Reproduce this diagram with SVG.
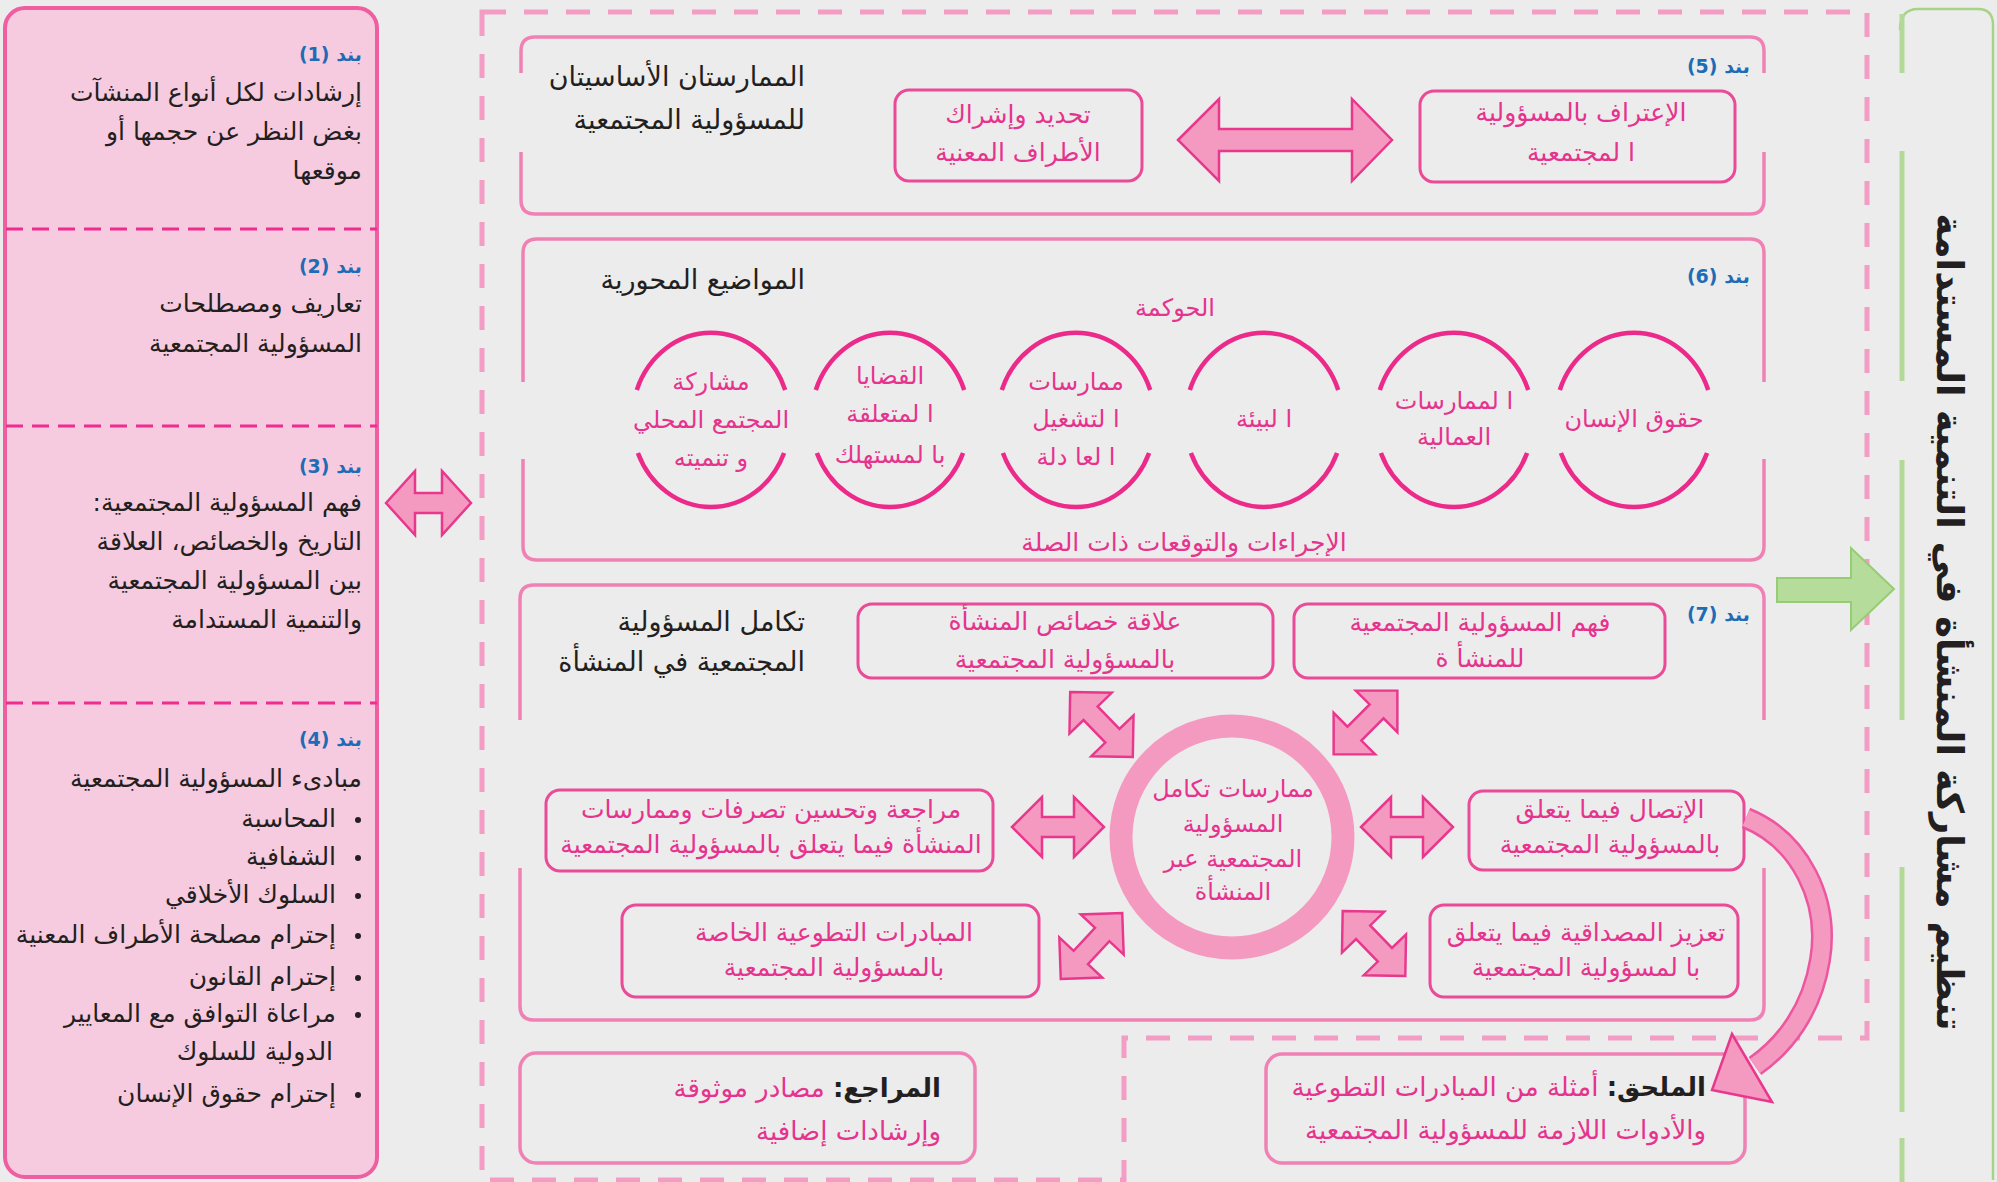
<svg xmlns="http://www.w3.org/2000/svg" xmlns:xlink="http://www.w3.org/1999/xlink" width="1997" height="1182" viewBox="0 0 1997 1182">
<style>
  text{font-family:"DejaVu Sans","Noto Sans",sans-serif}
  .k{fill:#231f20}
  .pk{fill:#e6338d}
  .bl{fill:#1e6cb6;font-weight:bold;font-size:19px}
  .lt{font-size:25px}
  .ttl{font-size:27px}
  .bt{font-size:25px}
  .ct{font-size:24px}
  .outer{fill:none;stroke:#f081b5;stroke-width:3.5}
  .inner{fill:none;stroke:#ea4a98;stroke-width:3}
  .arr{fill:#f49ac1;stroke:#e8378c;stroke-width:2.5;stroke-linejoin:miter}
  .ell{fill:none;stroke:#ec2a8a;stroke-width:4.5}
  .div{stroke:#ee2d8f;stroke-width:3;stroke-dasharray:17 9}
</style>
<defs>
  <path id="dbl" d="M-46,0 L-16,-30 L-16,-10 L16,-10 L16,-30 L46,0 L16,30 L16,10 L-16,10 L-16,30 Z"/>
</defs>
<rect width="1997" height="1182" fill="#ececec"/>

<!-- central dashed frame -->
<path d="M482,12 H1867 V1038 H1124 V1180 H482 Z" fill="none" stroke="#f39cc4" stroke-width="5" stroke-dasharray="24 18"/>

<!-- left panel -->
<g id="left-panel">
  <rect x="5" y="8" width="372" height="1169" rx="20" fill="#f7cbdf" stroke="#ee5ea0" stroke-width="4"/>
  <line class="div" x1="6" y1="229" x2="377" y2="229"/>
  <line class="div" x1="6" y1="426" x2="377" y2="426"/>
  <line class="div" x1="6" y1="703" x2="377" y2="703"/>
</g>
<g id="item1" direction="rtl">
  <text class="bl" x="362" y="61" text-anchor="start">بند (1)</text>
  <text class="k lt" x="362" y="101" text-anchor="start">إرشادات لكل أنواع المنشآت</text>
  <text class="k lt" x="362" y="140" text-anchor="start">بغض النظر عن حجمها أو</text>
  <text class="k lt" x="362" y="179" text-anchor="start">موقعها</text>
</g>
<g id="item2" direction="rtl">
  <text class="bl" x="362" y="273" text-anchor="start">بند (2)</text>
  <text class="k lt" x="362" y="312" text-anchor="start">تعاريف ومصطلحات</text>
  <text class="k lt" x="362" y="352" text-anchor="start">المسؤولية المجتمعية</text>
</g>
<g id="item3" direction="rtl">
  <text class="bl" x="362" y="473" text-anchor="start">بند (3)</text>
  <text class="k lt" x="362" y="511" text-anchor="start">فهم المسؤولية المجتمعية:</text>
  <text class="k lt" x="362" y="550" text-anchor="start">التاريخ والخصائص، العلاقة</text>
  <text class="k lt" x="362" y="589" text-anchor="start">بين المسؤولية المجتمعية</text>
  <text class="k lt" x="362" y="628" text-anchor="start">والتنمية المستدامة</text>
</g>
<g id="item4" direction="rtl">
  <text class="bl" x="362" y="746" text-anchor="start">بند (4)</text>
  <text class="k lt" x="362" y="787" text-anchor="start">مبادىء المسؤولية المجتمعية</text>
  <g fill="#231f20">
    <circle cx="358" cy="820" r="3"/>
    <circle cx="358" cy="858" r="3"/>
    <circle cx="358" cy="896" r="3"/>
    <circle cx="358" cy="936" r="3"/>
    <circle cx="358" cy="978" r="3"/>
    <circle cx="358" cy="1015" r="3"/>
    <circle cx="358" cy="1095" r="3"/>
  </g>
  <text class="k lt" x="336" y="827" text-anchor="start">المحاسبة</text>
  <text class="k lt" x="336" y="865" text-anchor="start">الشفافية</text>
  <text class="k lt" x="336" y="903" text-anchor="start">السلوك الأخلاقي</text>
  <text class="k lt" x="336" y="943" text-anchor="start">إحترام مصلحة الأطراف المعنية</text>
  <text class="k lt" x="336" y="985" text-anchor="start">إحترام القانون</text>
  <text class="k lt" x="336" y="1022" text-anchor="start">مراعاة التوافق مع المعايير</text>
  <text class="k lt" x="333" y="1060" text-anchor="start">الدولية للسلوك</text>
  <text class="k lt" x="336" y="1102" text-anchor="start">إحترام حقوق الإنسان</text>
</g>

<!-- box 5 -->
<g id="box5" direction="rtl">
  <path class="outer" d="M521,73 V51 Q521,37 535,37 H1750 Q1764,37 1764,51 V73 M1764,152 V200 Q1764,214 1750,214 H535 Q521,214 521,200 V152"/>
  <text class="bl" x="1750" y="73" text-anchor="start">بند (5)</text>
  <text class="k ttl" x="805" y="86" text-anchor="start">الممارستان الأساسيتان</text>
  <text class="k ttl" x="805" y="129" text-anchor="start">للمسؤولية المجتمعية</text>
</g>
<g id="n-stakeholders">
  <rect class="inner" x="895" y="90" width="247" height="91" rx="14"/>
  <text class="pk bt" x="1018" y="123" text-anchor="middle">تحديد وإشراك</text>
  <text class="pk bt" x="1018" y="161" text-anchor="middle">الأطراف المعنية</text>
</g>
<g id="n-recognition">
  <rect class="inner" x="1420" y="91" width="315" height="91" rx="14"/>
  <text class="pk bt" x="1581" y="121" text-anchor="middle">الإعتراف بالمسؤولية</text>
  <text class="pk bt" x="1581" y="161" text-anchor="middle">ا لمجتمعية</text>
</g>

<!-- box 6 -->
<g id="box6" direction="rtl">
  <path class="outer" d="M523,382 V253 Q523,239 537,239 H1750 Q1764,239 1764,253 V382 M1764,459 V546 Q1764,560 1750,560 H537 Q523,560 523,546 V459"/>
  <text class="bl" x="1750" y="283" text-anchor="start">بند (6)</text>
  <text class="k ttl" x="805" y="289" text-anchor="start">المواضيع المحورية</text>
  <text class="pk ct" x="1175" y="316" text-anchor="middle">الحوكمة</text>
  <text class="pk bt" x="1184" y="551" text-anchor="middle">الإجراءات والتوقعات ذات الصلة</text>
</g>
<g id="t-community">
  <path class="ell" d="M636.8,390 A79,87 0 0 1 785.2,390 M784.1,453 A79,87 0 0 1 637.9,453"/>
  <text class="pk ct" x="711" y="390" text-anchor="middle">مشاركة</text>
  <text class="pk ct" x="711" y="428" text-anchor="middle">المجتمع المحلي</text>
  <text class="pk ct" x="711" y="466" text-anchor="middle">و تنميته</text>
</g>
<g id="t-consumer">
  <path class="ell" d="M815.8,390 A79,87 0 0 1 964.2,390 M963.1,453 A79,87 0 0 1 816.9,453"/>
  <text class="pk ct" x="890" y="384" text-anchor="middle">القضايا</text>
  <text class="pk ct" x="890" y="422" text-anchor="middle">ا لمتعلقة</text>
  <text class="pk ct" x="890" y="463" text-anchor="middle">با لمستهلك</text>
</g>
<g id="t-fair">
  <path class="ell" d="M1001.8,390 A79,87 0 0 1 1150.2,390 M1149.1,453 A79,87 0 0 1 1002.9,453"/>
  <text class="pk ct" x="1076" y="390" text-anchor="middle">ممارسات</text>
  <text class="pk ct" x="1076" y="427" text-anchor="middle">ا لتشغيل</text>
  <text class="pk ct" x="1076" y="465" text-anchor="middle">ا لعا دلة</text>
</g>
<g id="t-environment">
  <path class="ell" d="M1189.8,390 A79,87 0 0 1 1338.2,390 M1337.1,453 A79,87 0 0 1 1190.9,453"/>
  <text class="pk ct" x="1264" y="427" text-anchor="middle">ا لبيئة</text>
</g>
<g id="t-labour">
  <path class="ell" d="M1379.8,390 A79,87 0 0 1 1528.2,390 M1527.1,453 A79,87 0 0 1 1380.9,453"/>
  <text class="pk ct" x="1454" y="409" text-anchor="middle">ا لممارسات</text>
  <text class="pk ct" x="1454" y="445" text-anchor="middle">العمالية</text>
</g>
<g id="t-human">
  <path class="ell" d="M1559.8,390 A79,87 0 0 1 1708.2,390 M1707.1,453 A79,87 0 0 1 1560.9,453"/>
  <text class="pk ct" x="1634" y="427" text-anchor="middle">حقوق الإنسان</text>
</g>

<!-- box 7 -->
<g id="box7" direction="rtl">
  <path class="outer" d="M520,720 V599 Q520,585 534,585 H1750 Q1764,585 1764,599 V720 M1764,868 V1006 Q1764,1020 1750,1020 H534 Q520,1020 520,1006 V868"/>
  <text class="bl" x="1750" y="621" text-anchor="start">بند (7)</text>
  <text class="k ttl" x="805" y="631" text-anchor="start">تكامل المسؤولية</text>
  <text class="k ttl" x="805" y="671" text-anchor="start">المجتمعية في المنشأة</text>
</g>
<g id="n-characteristics">
  <rect class="inner" x="858" y="604" width="415" height="74" rx="14"/>
  <text class="pk bt" x="1065" y="630" text-anchor="middle">علاقة خصائص المنشأة</text>
  <text class="pk bt" x="1065" y="668" text-anchor="middle">بالمسؤولية المجتمعية</text>
</g>
<g id="n-understanding">
  <rect class="inner" x="1294" y="604" width="371" height="74" rx="14"/>
  <text class="pk bt" x="1480" y="631" text-anchor="middle">فهم المسؤولية المجتمعية</text>
  <text class="pk bt" x="1480" y="667" text-anchor="middle">للمنشأ ة</text>
</g>
<g id="n-practices">
  <circle cx="1232" cy="837" r="111" fill="none" stroke="#f49ac1" stroke-width="23"/>
  <text class="pk ct" x="1233" y="797" text-anchor="middle">ممارسات تكامل</text>
  <text class="pk ct" x="1233" y="832" text-anchor="middle">المسؤولية</text>
  <text class="pk ct" x="1233" y="867" text-anchor="middle">المجتمعية عبر</text>
  <text class="pk ct" x="1233" y="900" text-anchor="middle">المنشأة</text>
</g>
<g id="n-review">
  <rect class="inner" x="546" y="790" width="447" height="81" rx="14"/>
  <text class="pk bt" x="771" y="818" text-anchor="middle">مراجعة وتحسين تصرفات وممارسات</text>
  <text class="pk bt" x="771" y="853" text-anchor="middle">المنشأة فيما يتعلق بالمسؤولية المجتمعية</text>
</g>
<g id="n-communication">
  <rect class="inner" x="1469" y="791" width="275" height="79" rx="14"/>
  <text class="pk bt" x="1610" y="818" text-anchor="middle">الإتصال فيما يتعلق</text>
  <text class="pk bt" x="1610" y="853" text-anchor="middle">بالمسؤولية المجتمعية</text>
</g>
<g id="n-voluntary">
  <rect class="inner" x="622" y="905" width="417" height="92" rx="14"/>
  <text class="pk bt" x="834" y="941" text-anchor="middle">المبادرات التطوعية الخاصة</text>
  <text class="pk bt" x="834" y="976" text-anchor="middle">بالمسؤولية المجتمعية</text>
</g>
<g id="n-credibility">
  <rect class="inner" x="1430" y="905" width="308" height="92" rx="14"/>
  <text class="pk bt" x="1586" y="941" text-anchor="middle">تعزيز المصداقية فيما يتعلق</text>
  <text class="pk bt" x="1586" y="976" text-anchor="middle">با لمسؤولية المجتمعية</text>
</g>

<!-- bottom boxes -->
<g id="n-references" direction="rtl">
  <rect class="outer" x="520" y="1053" width="455" height="110" rx="16"/>
  <text x="941" y="1097" text-anchor="start" style="font-size:26px"><tspan class="k" font-weight="bold">المراجع:</tspan><tspan class="pk"> مصادر موثوقة</tspan></text>
  <text class="pk" x="941" y="1140" text-anchor="start" style="font-size:26px">وإرشادات إضافية</text>
</g>
<g id="n-appendix" direction="rtl">
  <rect class="outer" x="1266" y="1054" width="479" height="109" rx="16"/>
  <text x="1706" y="1096" text-anchor="start" style="font-size:26px"><tspan class="k" font-weight="bold">الملحق:</tspan><tspan class="pk"> أمثلة من المبادرات التطوعية</tspan></text>
  <text class="pk" x="1706" y="1139" text-anchor="start" style="font-size:26px">والأدوات اللازمة للمسؤولية المجتمعية</text>
</g>

<!-- green box -->
<g id="n-sustainable">
  <path d="M1900,30 Q1900,9 1918,9 H1978 Q1993,9 1993,25 V1180" fill="none" stroke="#a6d486" stroke-width="2.5"/>
  <g stroke="#b3d998" stroke-width="5">
    <line x1="1902" y1="14" x2="1902" y2="73"/>
    <line x1="1902" y1="151" x2="1902" y2="381"/>
    <line x1="1902" y1="460" x2="1902" y2="720"/>
    <line x1="1902" y1="867" x2="1902" y2="1112"/>
    <line x1="1902" y1="1138" x2="1902" y2="1182"/>
  </g>
  <text class="k" transform="translate(1937,622) rotate(90)" text-anchor="middle" style="font-size:37px;font-weight:bold">تنظيم مشاركة المنشأة في التنمية المستدامة</text>
</g>

<!-- connectors -->
<g id="connectors">
  <path class="arr" d="M386,503 L415,471 L415,493 L442,493 L442,471 L471,503 L442,535 L442,513 L415,513 L415,535 Z"/>
  <path class="arr" d="M1178,140 L1219,99 L1219,129 L1352,129 L1352,99 L1392,140 L1352,181 L1352,151 L1219,151 L1219,181 Z"/>
  <use class="arr" xlink:href="#dbl" transform="translate(1058,827)"/>
  <use class="arr" xlink:href="#dbl" transform="translate(1407,827)"/>
  <use class="arr" xlink:href="#dbl" transform="translate(1101.5,724.5) rotate(46) scale(0.98)"/>
  <use class="arr" xlink:href="#dbl" transform="translate(1365.5,722.5) rotate(-45) scale(0.98)"/>
  <use class="arr" xlink:href="#dbl" transform="translate(1091.5,946) rotate(-47) scale(0.98)"/>
  <use class="arr" xlink:href="#dbl" transform="translate(1374,943.5) rotate(46) scale(0.98)"/>
  <path d="M1746,818 C1800,840 1830,900 1820,960 C1812,1010 1785,1045 1755,1066" fill="none" stroke="#ee559f" stroke-width="22"/>
  <path d="M1746,818 C1800,840 1830,900 1820,960 C1812,1010 1785,1045 1755,1066" fill="none" stroke="#f49ac1" stroke-width="17"/>
  <path class="arr" d="M1732,1034 L1712,1090 L1772,1102 Z"/>
  <path d="M1777,578 H1851 V548 L1894,589 L1851,630 V602 H1777 Z" fill="#b5dc9a" stroke="#96cc74" stroke-width="2"/>
</g>
</svg>
